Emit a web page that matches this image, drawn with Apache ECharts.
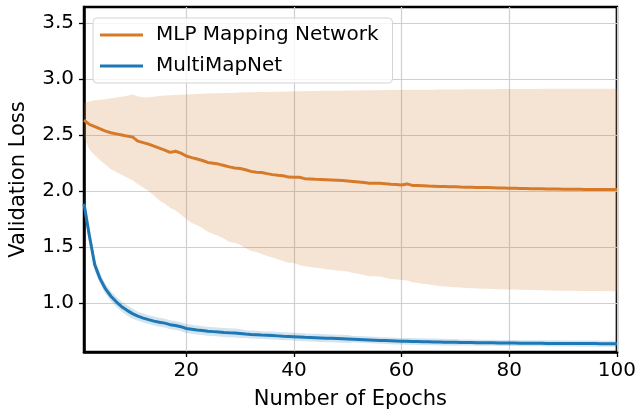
<!DOCTYPE html>
<html>
<head>
<meta charset="utf-8">
<script src="https://cdn.jsdelivr.net/npm/echarts@6/dist/echarts.min.js"></script>
<style>html,body{margin:0;padding:0;background:#fff;}#c{width:639px;height:416px;}</style>
</head>
<body>
<div id="c"></div>
<script>
// Epoch numbers are 1..100 (x positions of the values below, in order)
const xTicks = [20, 40, 60, 80, 100];
const yTicks = [1.0, 1.5, 2.0, 2.5, 3.0, 3.5];

const mlpMean = [2.633,2.595,2.575,2.555,2.535,2.52,2.51,2.50,2.49,2.483,
2.445,2.432,2.418,2.40,2.383,2.365,2.345,2.355,2.338,2.312,
2.298,2.285,2.272,2.255,2.248,2.24,2.228,2.215,2.205,2.20,
2.19,2.175,2.168,2.165,2.155,2.146,2.14,2.136,2.124,2.123,
2.123,2.11,2.107,2.104,2.102,2.10,2.098,2.096,2.094,2.09,
2.085,2.08,2.075,2.07,2.069,2.068,2.064,2.06,2.057,2.053,
2.063,2.05,2.048,2.046,2.044,2.043,2.041,2.04,2.038,2.037,
2.035,2.034,2.033,2.032,2.031,2.03,2.029,2.027,2.026,2.025,
2.024,2.023,2.022,2.021,2.02,2.019,2.018,2.017,2.017,2.016,
2.016,2.015,2.015,2.014,2.014,2.014,2.013,2.013,2.013,2.013];

const mlpUpper = [2.785,2.80,2.81,2.815,2.82,2.828,2.835,2.842,2.85,2.862,
2.845,2.835,2.838,2.842,2.848,2.852,2.855,2.858,2.86,2.862,
2.864,2.866,2.868,2.87,2.872,2.873,2.875,2.876,2.878,2.88,
2.881,2.882,2.883,2.884,2.885,2.886,2.887,2.888,2.889,2.89,
2.891,2.891,2.892,2.893,2.894,2.894,2.895,2.896,2.896,2.897,
2.898,2.898,2.899,2.899,2.90,2.90,2.901,2.902,2.902,2.903,
2.903,2.904,2.904,2.905,2.905,2.905,2.906,2.906,2.907,2.907,
2.907,2.908,2.908,2.908,2.909,2.909,2.909,2.91,2.91,2.91,
2.91,2.911,2.911,2.911,2.911,2.912,2.912,2.912,2.912,2.912,
2.912,2.912,2.912,2.912,2.912,2.912,2.912,2.912,2.912,2.912];

const mlpLower = [2.48,2.37,2.32,2.275,2.235,2.195,2.17,2.145,2.12,2.095,
2.06,2.03,2.00,1.96,1.915,1.885,1.85,1.825,1.79,1.75,
1.715,1.695,1.67,1.635,1.615,1.598,1.575,1.545,1.537,1.52,
1.49,1.467,1.455,1.44,1.42,1.405,1.39,1.375,1.36,1.357,
1.34,1.327,1.322,1.315,1.31,1.30,1.296,1.29,1.285,1.28,
1.268,1.26,1.25,1.238,1.238,1.236,1.225,1.215,1.21,1.205,
1.20,1.185,1.178,1.172,1.165,1.158,1.152,1.147,1.143,1.14,
1.137,1.134,1.131,1.129,1.127,1.126,1.124,1.123,1.122,1.121,
1.12,1.119,1.118,1.116,1.115,1.114,1.112,1.111,1.11,1.109,
1.108,1.108,1.107,1.107,1.106,1.106,1.106,1.105,1.105,1.105];

const mmnMean = [1.885,1.60,1.34,1.215,1.125,1.06,1.01,0.967,0.934,0.905,
0.882,0.865,0.851,0.838,0.828,0.82,0.806,0.798,0.788,0.772,
0.765,0.758,0.753,0.748,0.744,0.74,0.736,0.733,0.731,0.727,
0.722,0.718,0.716,0.713,0.711,0.709,0.706,0.703,0.701,0.699,
0.696,0.693,0.691,0.689,0.687,0.685,0.684,0.682,0.68,0.678,
0.676,0.674,0.672,0.67,0.668,0.665,0.664,0.662,0.66,0.658,
0.657,0.656,0.655,0.654,0.653,0.652,0.651,0.65,0.649,0.648,
0.647,0.647,0.646,0.645,0.645,0.644,0.644,0.643,0.643,0.642,
0.642,0.641,0.641,0.640,0.640,0.640,0.639,0.639,0.639,0.638,
0.638,0.638,0.637,0.637,0.637,0.637,0.636,0.636,0.636,0.636];

const mmnUpper = [1.975,1.67,1.395,1.26,1.17,1.105,1.055,1.012,0.979,0.95,
0.922,0.905,0.891,0.878,0.868,0.86,0.846,0.838,0.828,0.812,
0.805,0.798,0.793,0.788,0.784,0.78,0.776,0.773,0.771,0.767,
0.757,0.753,0.751,0.748,0.746,0.744,0.741,0.738,0.736,0.734,
0.731,0.728,0.726,0.724,0.722,0.72,0.719,0.717,0.715,0.713,
0.706,0.704,0.702,0.70,0.698,0.695,0.694,0.692,0.69,0.688,
0.687,0.686,0.685,0.684,0.683,0.682,0.681,0.68,0.679,0.678,
0.674,0.674,0.673,0.672,0.672,0.671,0.671,0.67,0.67,0.669,
0.669,0.668,0.668,0.667,0.667,0.667,0.666,0.666,0.666,0.665,
0.665,0.665,0.664,0.664,0.664,0.664,0.663,0.663,0.663,0.663];

const mmnLower = [1.795,1.53,1.285,1.17,1.08,1.015,0.965,0.922,0.889,0.86,
0.842,0.825,0.811,0.798,0.788,0.78,0.766,0.758,0.748,0.732,
0.725,0.718,0.713,0.708,0.704,0.70,0.696,0.693,0.691,0.687,
0.687,0.683,0.681,0.678,0.676,0.674,0.671,0.668,0.666,0.664,
0.661,0.658,0.656,0.654,0.652,0.65,0.649,0.647,0.645,0.643,
0.646,0.644,0.642,0.64,0.638,0.635,0.634,0.632,0.63,0.628,
0.627,0.626,0.625,0.624,0.623,0.622,0.621,0.62,0.619,0.618,
0.62,0.62,0.619,0.618,0.618,0.617,0.617,0.616,0.616,0.615,
0.615,0.614,0.614,0.613,0.613,0.613,0.612,0.612,0.612,0.611,
0.611,0.611,0.61,0.61,0.61,0.61,0.609,0.609,0.609,0.609];

const FONT = 'DejaVu Sans';
const ORANGE = '#d67a2a';
const BLUE = '#1f77b4';

const pts = arr => arr.map((v, i) => [i + 1, v]);

function bandSeries(name, upper, lower, fill) {
  return {
    name: name, type: 'custom', silent: true, z: 1,
    data: [0],
    renderItem: function (params, api) {
      const top = upper.map((v, i) => api.coord([i + 1, v]));
      const bot = lower.map((v, i) => api.coord([i + 1, v])).reverse();
      return {type: 'polygon', shape: {points: top.concat(bot)}, style: {fill: fill, stroke: null}};
    }
  };
}

const chart = echarts.init(document.getElementById('c'), null, {renderer: 'canvas'});
chart.setOption({
  animation: false,
  backgroundColor: '#fff',
  grid: {left: 83.5, right: 21, top: 7, bottom: 64, show: true, borderColor: '#000', borderWidth: 2.5, backgroundColor: 'transparent'},
  legend: {
    orient: 'vertical', left: 93, top: 18,
    data: [{name: 'MLP Mapping Network', icon: 'rect'}, {name: 'MultiMapNet', icon: 'rect'}],
    itemWidth: 43, itemHeight: 3, itemGap: 11,
    padding: [7, 14, 7, 7],
    backgroundColor: 'rgba(255,255,255,0.8)', borderColor: '#d4d4d4', borderWidth: 1, borderRadius: 4,
    textStyle: {fontFamily: FONT, fontSize: 20, color: '#000', lineHeight: 20, padding: [0, 0, 0, 8]}
  },
  xAxis: {
    type: 'value', min: 1, max: 100,
    name: 'Number of Epochs', nameLocation: 'middle', nameGap: 37,
    nameTextStyle: {fontFamily: FONT, fontSize: 21, color: '#000'},
    axisLine: {show: true, lineStyle: {color: '#000', width: 2.5}},
    axisTick: {show: true, length: 5, lineStyle: {color: '#000', width: 1.3}, customValues: xTicks},
    axisLabel: {fontFamily: FONT, fontSize: 20, color: '#000', margin: 9, customValues: xTicks},
    splitLine: {show: true, lineStyle: {color: '#cfcfcf', width: 1.2}}
  },
  yAxis: {
    type: 'value', min: 0.562, max: 3.643,
    name: 'Validation Loss', nameLocation: 'middle', nameGap: 55, nameRotate: 90,
    nameTextStyle: {fontFamily: FONT, fontSize: 21, color: '#000'},
    axisLine: {show: true, lineStyle: {color: '#000', width: 2.5}},
    axisTick: {show: true, length: 5, lineStyle: {color: '#000', width: 1.3}, customValues: yTicks},
    axisLabel: {fontFamily: FONT, fontSize: 20, color: '#000', margin: 10, customValues: yTicks,
      formatter: v => Number(v).toFixed(1)},
    splitLine: {show: true, lineStyle: {color: '#cfcfcf', width: 1.2}}
  },
  series: [
    bandSeries('mlpBand', mlpUpper, mlpLower, 'rgba(204,119,34,0.2)'),
    bandSeries('mmnBand', mmnUpper, mmnLower, 'rgba(31,119,180,0.2)'),
    {name: 'MLP Mapping Network', type: 'line', data: pts(mlpMean), showSymbol: false, color: ORANGE,
      lineStyle: {color: ORANGE, width: 3}, itemStyle: {color: ORANGE}, z: 3},
    {name: 'MultiMapNet', type: 'line', data: pts(mmnMean), showSymbol: false, color: BLUE,
      lineStyle: {color: BLUE, width: 3}, itemStyle: {color: BLUE}, z: 3}
  ]
});
</script>
</body>
</html>
